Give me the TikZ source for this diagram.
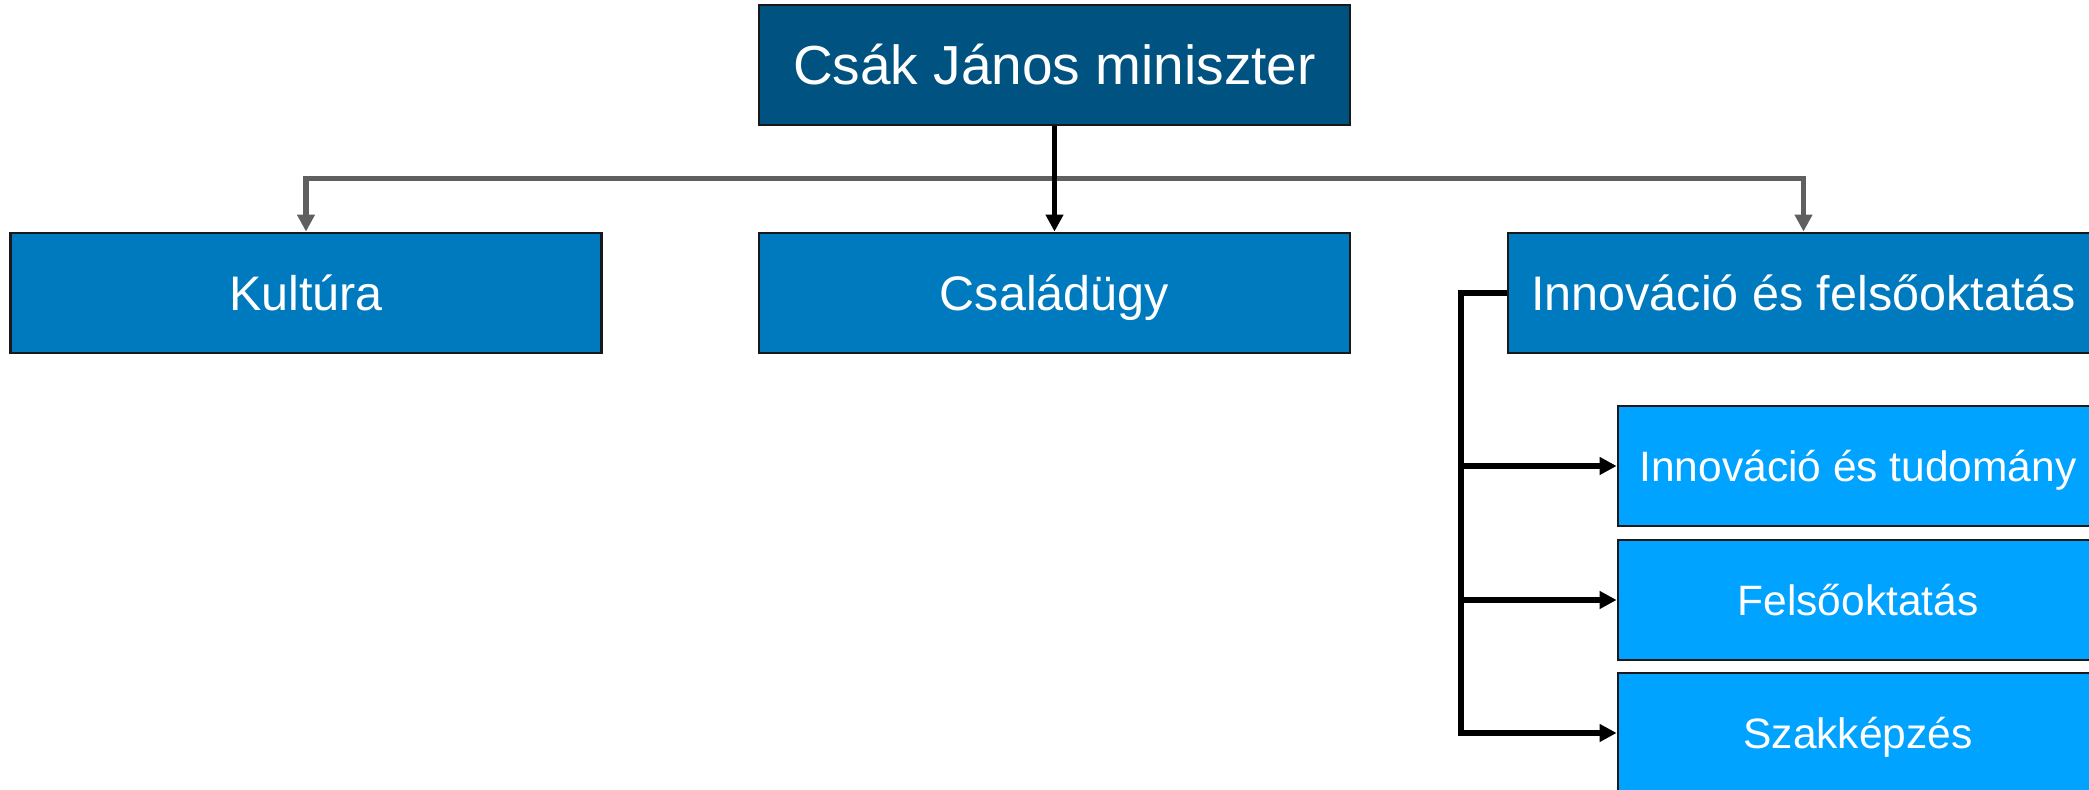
\documentclass[tikz,border=0pt]{standalone}
\usepackage{fontspec}
\setmainfont{Liberation Sans}
\usepackage{tikz}
\usetikzlibrary{arrows.meta}

\definecolor{topblue}{HTML}{005280}
\definecolor{midblue}{HTML}{007ABE}
\definecolor{subblue}{HTML}{00A3FF}
\definecolor{busgray}{HTML}{5F5F5F}

\begin{document}
\begin{tikzpicture}[x=0.5pt,y=0.5pt,
	>={Triangle[length=8.5pt,width=8.5pt]},
	box/.style={draw=black!90,line width=1.4pt,text=white,inner sep=0pt,
		text depth=0pt,minimum width=295.5pt,minimum height=60pt},
	topbox/.style={box,fill=topblue,text height=19.8pt,font=\fontsize{27.5pt}{30pt}\selectfont},
	midbox/.style={box,fill=midblue,text height=17.5pt,font=\fontsize{24.25pt}{28pt}\selectfont},
	subbox/.style={box,fill=subblue,text height=15.3pt,minimum width=240pt,font=\fontsize{21.25pt}{24pt}\selectfont},
	busline/.style={draw=busgray,line width=2.8pt},
	link/.style={draw=black,line width=2.6pt}]
	\useasboundingbox (0,0) rectangle (2089,790);
	\node[topbox] (M) at (1054.5,725) {Csák János miniszter};
	\node[midbox] (K) at (306,497) {Kultúra};
	\node[midbox] (C) at (1054.5,497) {Családügy};
	\node[midbox] (I) at (1803.5,497) {Innováció és felsőoktatás};
	\node[subbox] (IT) at (1858,324) {Innováció és tudomány};
	\node[subbox] (F) at (1858,190) {Felsőoktatás};
	\node[subbox] (SZ) at (1858,57) {Szakképzés};
	\coordinate (bus) at (1054.5,611.5);
	\coordinate (rail) at (1461,497);
	\draw[busline,->] (bus) -| (K);
	\draw[busline,->] (bus) -| (I);
	\draw[link,->] (M) -- (C);
	\draw[link,->] (I.west) -- (rail) |- (SZ);
	\draw[link,->] (rail |- IT) -- (IT);
	\draw[link,->] (rail |- F) -- (F);
\end{tikzpicture}
\end{document}
